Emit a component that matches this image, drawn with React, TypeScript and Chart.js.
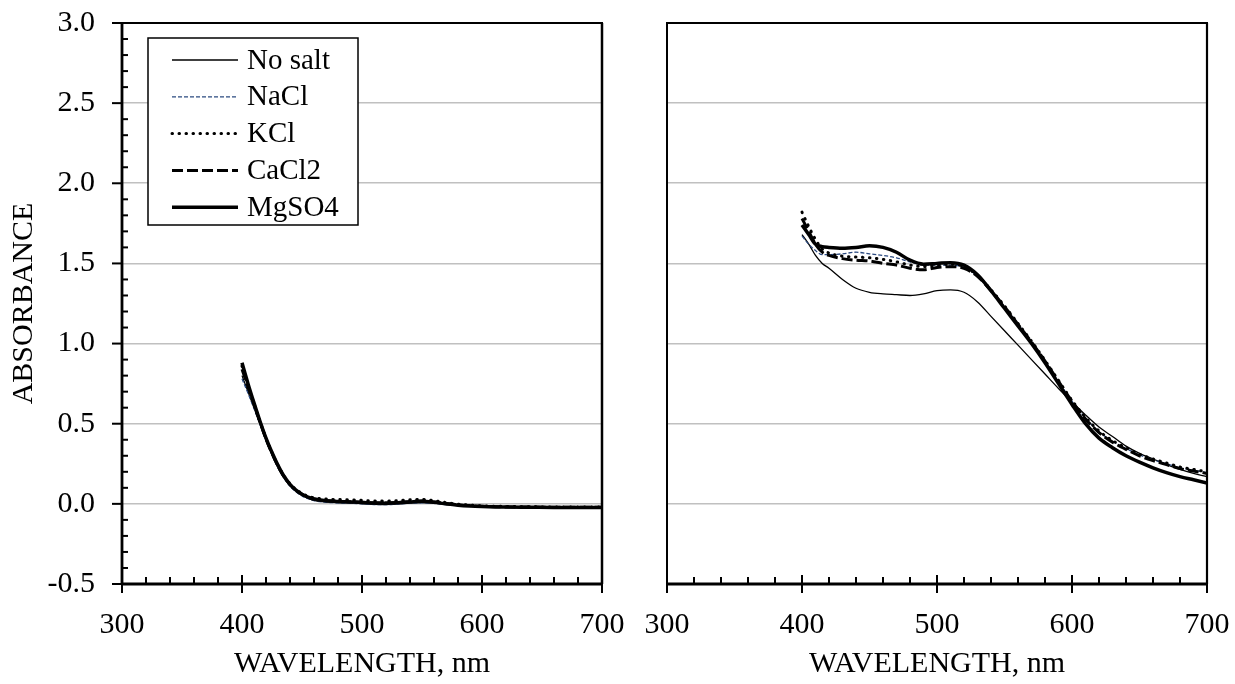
import React, { useEffect, useRef } from "react";
import { Chart, registerables } from "chart.js";

Chart.register(...registerables);

const FONT = "'Liberation Serif', 'Times New Roman', serif";
const AXIS_FONT_SIZE = 30;
const LEGEND_FONT_SIZE = 29;

const seriesNames = ["No salt", "NaCl", "KCl", "CaCl2", "MgSO4"];
const xMin = 300;
const xMax = 700;
const yMin = -0.5;
const yMax = 3.0;
const xTitle = "WAVELENGTH, nm";
const yTitle = "ABSORBANCE";

// Left panel
const leftWavelengths = [400, 405, 410, 415, 420, 425, 430, 435, 440, 445, 450, 455, 460, 470, 480, 490, 500, 510, 520, 530, 540, 550, 560, 570, 580, 590, 600, 620, 640, 660, 680, 700];
const leftNoSalt = [0.8, 0.7, 0.6, 0.5, 0.4, 0.31, 0.23, 0.165, 0.115, 0.08, 0.055, 0.035, 0.022, 0.012, 0.008, 0.005, 0.002, -0.003, -0.004, 0.0, 0.005, 0.008, 0.004, -0.004, -0.01, -0.014, -0.017, -0.02, -0.021, -0.022, -0.022, -0.022];
const leftNaCl = [0.78, 0.69, 0.595, 0.495, 0.395, 0.305, 0.225, 0.16, 0.11, 0.075, 0.05, 0.032, 0.02, 0.01, 0.006, 0.004, 0.0, -0.004, -0.005, -0.001, 0.004, 0.007, 0.003, -0.005, -0.011, -0.015, -0.018, -0.021, -0.022, -0.023, -0.023, -0.023];
const leftKCl = [0.86, 0.74, 0.625, 0.515, 0.41, 0.32, 0.24, 0.175, 0.125, 0.09, 0.065, 0.048, 0.038, 0.03, 0.027, 0.025, 0.022, 0.018, 0.017, 0.02, 0.025, 0.028, 0.02, 0.008, -0.002, -0.008, -0.012, -0.016, -0.018, -0.02, -0.02, -0.02];
const leftCaCl2 = [0.84, 0.73, 0.62, 0.51, 0.405, 0.315, 0.235, 0.17, 0.12, 0.085, 0.06, 0.042, 0.03, 0.02, 0.016, 0.013, 0.01, 0.006, 0.005, 0.008, 0.014, 0.018, 0.012, 0.002, -0.006, -0.011, -0.015, -0.019, -0.02, -0.021, -0.021, -0.021];
const leftMgSO4 = [0.88, 0.75, 0.63, 0.515, 0.41, 0.32, 0.24, 0.172, 0.122, 0.086, 0.06, 0.042, 0.03, 0.02, 0.015, 0.012, 0.009, 0.005, 0.004, 0.007, 0.012, 0.016, 0.01, 0.0, -0.008, -0.013, -0.016, -0.02, -0.021, -0.022, -0.022, -0.022];

// Right panel
const rightWavelengths = [400, 405, 410, 415, 420, 430, 440, 450, 460, 470, 480, 490, 500, 510, 520, 530, 540, 550, 560, 570, 580, 590, 600, 610, 620, 630, 640, 650, 660, 670, 680, 690, 700];
const rightNoSalt = [1.68, 1.62, 1.55, 1.5, 1.47, 1.4, 1.345, 1.32, 1.31, 1.305, 1.3, 1.31, 1.33, 1.335, 1.32, 1.26, 1.17, 1.08, 0.99, 0.9, 0.81, 0.72, 0.635, 0.555, 0.48, 0.42, 0.36, 0.315, 0.28, 0.245, 0.215, 0.19, 0.17];
const rightNaCl = [1.67, 1.62, 1.58, 1.555, 1.555, 1.56, 1.57, 1.56, 1.55, 1.535, 1.51, 1.49, 1.49, 1.49, 1.475, 1.42, 1.33, 1.23, 1.12, 1.01, 0.89, 0.765, 0.64, 0.535, 0.45, 0.39, 0.345, 0.305, 0.275, 0.25, 0.225, 0.21, 0.195];
const rightKCl = [1.82, 1.73, 1.65, 1.59, 1.565, 1.545, 1.54, 1.535, 1.525, 1.51, 1.49, 1.48, 1.49, 1.495, 1.48, 1.425, 1.335, 1.235, 1.125, 1.015, 0.895, 0.77, 0.645, 0.54, 0.455, 0.395, 0.35, 0.31, 0.28, 0.255, 0.23, 0.215, 0.2];
const rightCaCl2 = [1.78, 1.7, 1.62, 1.57, 1.55, 1.53, 1.52, 1.515, 1.5, 1.49, 1.47, 1.46, 1.475, 1.48, 1.47, 1.42, 1.33, 1.23, 1.12, 1.01, 0.89, 0.765, 0.64, 0.53, 0.445, 0.385, 0.34, 0.3, 0.27, 0.245, 0.22, 0.205, 0.19];
const rightMgSO4 = [1.74, 1.68, 1.62, 1.605, 1.6, 1.595, 1.6, 1.61, 1.6, 1.57, 1.52, 1.495, 1.5, 1.505, 1.49, 1.43, 1.33, 1.22, 1.11, 1.0, 0.88, 0.75, 0.62, 0.5, 0.41, 0.35, 0.3, 0.26, 0.225, 0.195, 0.17, 0.15, 0.13];

const seriesStyles = [
  { color: "#000000", width: 1.3, dash: [] as number[], cap: "butt" },
  { color: "#2b4a80", width: 1.3, dash: [4, 2], cap: "butt" },
  { color: "#000000", width: 3, dash: [0.5, 6.5], cap: "round" },
  { color: "#000000", width: 3, dash: [11, 4], cap: "butt" },
  { color: "#000000", width: 3.5, dash: [] as number[], cap: "butt" },
];

function buildDatasets(wl: number[], series: number[][]) {
  return series.map((vals, i) => ({
    label: seriesNames[i],
    data: vals.map((v, j) => ({ x: wl[j], y: v })),
    borderColor: seriesStyles[i].color,
    backgroundColor: seriesStyles[i].color,
    borderWidth: seriesStyles[i].width,
    borderDash: seriesStyles[i].dash,
    borderCapStyle: seriesStyles[i].cap,
    borderJoinStyle: "round",
    pointRadius: 0,
    cubicInterpolationMode: "monotone",
    fill: false,
    order: seriesNames.length - 1 - i,
  }));
}

const framePlugin = {
  id: "frame",
  afterDraw(chart: any, _args: any, opts: any) {
    const { ctx, chartArea: a, scales } = chart;
    const x = scales.x;
    const y = scales.y;
    ctx.save();
    ctx.strokeStyle = "#000";
    ctx.lineCap = "butt";
    ctx.setLineDash([]);
    const seg = (x1: number, y1: number, x2: number, y2: number, w: number) => {
      ctx.lineWidth = w;
      ctx.beginPath();
      ctx.moveTo(x1, y1);
      ctx.lineTo(x2, y2);
      ctx.stroke();
    };
    // x ticks
    for (let v = xMin; v <= xMax; v += 20) {
      const px = x.getPixelForValue(v);
      if (v % 100 === 0) seg(px, a.bottom - 9, px, a.bottom + 9, 2);
      else seg(px, a.bottom - 7, px, a.bottom, 2);
    }
    if (opts.yTicks) {
      for (let i = -5; i <= 30; i++) {
        const py = y.getPixelForValue(i / 10);
        if (i % 5 === 0) seg(a.left - 10, py, a.left, py, 2);
        else seg(a.left, py, a.left + 6, py, 2);
      }
    }
    seg(a.left - 1, a.top, a.right + 1, a.top, 2.2);
    seg(a.right, a.top, a.right, a.bottom, opts.rightW);
    seg(a.left, a.top - 1, a.left, a.bottom + 1, opts.leftW);
    seg(a.left - 1, a.bottom, a.right + 1, a.bottom, 3);

    if (opts.legend) {
      const bx = a.left + 26;
      const by = a.top + 15;
      const bw = 210;
      const bh = 187;
      ctx.fillStyle = "#fff";
      ctx.fillRect(bx, by, bw, bh);
      ctx.lineWidth = 1.5;
      ctx.strokeRect(bx, by, bw, bh);
      const rowGap = 36.8;
      chart.data.datasets.forEach((ds: any, i: number) => {
        const cy = by + 22 + i * rowGap;
        ctx.save();
        ctx.strokeStyle = ds.borderColor;
        ctx.lineWidth = ds.borderWidth;
        ctx.setLineDash(ds.borderDash || []);
        ctx.lineCap = ds.borderCapStyle || "butt";
        ctx.beginPath();
        ctx.moveTo(bx + 24, cy);
        ctx.lineTo(bx + 90, cy);
        ctx.stroke();
        ctx.restore();
        ctx.fillStyle = "#000";
        ctx.font = `${LEGEND_FONT_SIZE}px ${FONT}`;
        ctx.textAlign = "left";
        ctx.textBaseline = "middle";
        ctx.fillText(ds.label, bx + 99, cy + 1);
      });
    }
    ctx.restore();
  },
};

function makeOptions(isLeft: boolean): any {
  const font = { family: FONT, size: AXIS_FONT_SIZE };
  return {
    responsive: false,
    maintainAspectRatio: false,
    animation: false,
    layout: { padding: isLeft ? { left: 0, right: 33, top: 23, bottom: 0 } : { left: 0, right: 28, top: 23, bottom: 0 } },
    plugins: {
      legend: { display: false },
      tooltip: { enabled: false },
      frame: isLeft ? { yTicks: true, legend: true, leftW: 2.8, rightW: 2.5 } : { yTicks: false, legend: false, leftW: 2, rightW: 2.2 },
    },
    scales: {
      x: {
        type: "linear",
        min: xMin,
        max: xMax,
        afterFit: (s: any) => {
          s.height = 100;
          s.paddingLeft = 0;
          s.paddingRight = 0;
        },
        ticks: { stepSize: 100, font, color: "#000", padding: 23, maxRotation: 0, autoSkip: false },
        grid: { display: false, drawTicks: false },
        border: { display: false },
        title: { display: true, text: xTitle, font, color: "#000", padding: { top: 0, bottom: 2 } },
      },
      y: {
        type: "linear",
        min: yMin,
        max: yMax,
        afterFit: (s: any) => {
          s.width = isLeft ? 122 : 32;
          s.paddingTop = 0;
          s.paddingBottom = 0;
        },
        ticks: {
          display: isLeft,
          stepSize: 0.5,
          font,
          color: "#000",
          padding: 27,
          callback: (v: any) => Number(v).toFixed(1),
        },
        grid: { display: true, drawTicks: false, color: "#c0c0c0", lineWidth: 1.6 },
        border: { display: false },
        title: { display: isLeft, text: yTitle, font, color: "#000", padding: { top: 6, bottom: 0 } },
      },
    },
  };
}

function Panel({ left, width, isLeft, wl, series }: { left: number; width: number; isLeft: boolean; wl: number[]; series: number[][] }) {
  const ref = useRef<HTMLCanvasElement | null>(null);
  useEffect(() => {
    if (!ref.current) return;
    const chart = new Chart(ref.current, {
      type: "line",
      data: { datasets: buildDatasets(wl, series) as any },
      options: makeOptions(isLeft),
      plugins: [framePlugin as any],
    });
    return () => chart.destroy();
  }, []);
  return (
    <canvas
      ref={ref}
      width={width}
      height={684}
      style={{ position: "absolute", left, top: 0, width, height: 684 }}
    />
  );
}

export default function App() {
  useEffect(() => {
    document.body.style.margin = "0";
  }, []);
  return (
    <div style={{ position: "relative", width: 1235, height: 684, background: "#fff", overflow: "hidden" }}>
      <Panel
        left={0}
        width={635}
        isLeft={true}
        wl={leftWavelengths}
        series={[leftNoSalt, leftNaCl, leftKCl, leftCaCl2, leftMgSO4]}
      />
      <Panel
        left={635}
        width={600}
        isLeft={false}
        wl={rightWavelengths}
        series={[rightNoSalt, rightNaCl, rightKCl, rightCaCl2, rightMgSO4]}
      />
    </div>
  );
}
